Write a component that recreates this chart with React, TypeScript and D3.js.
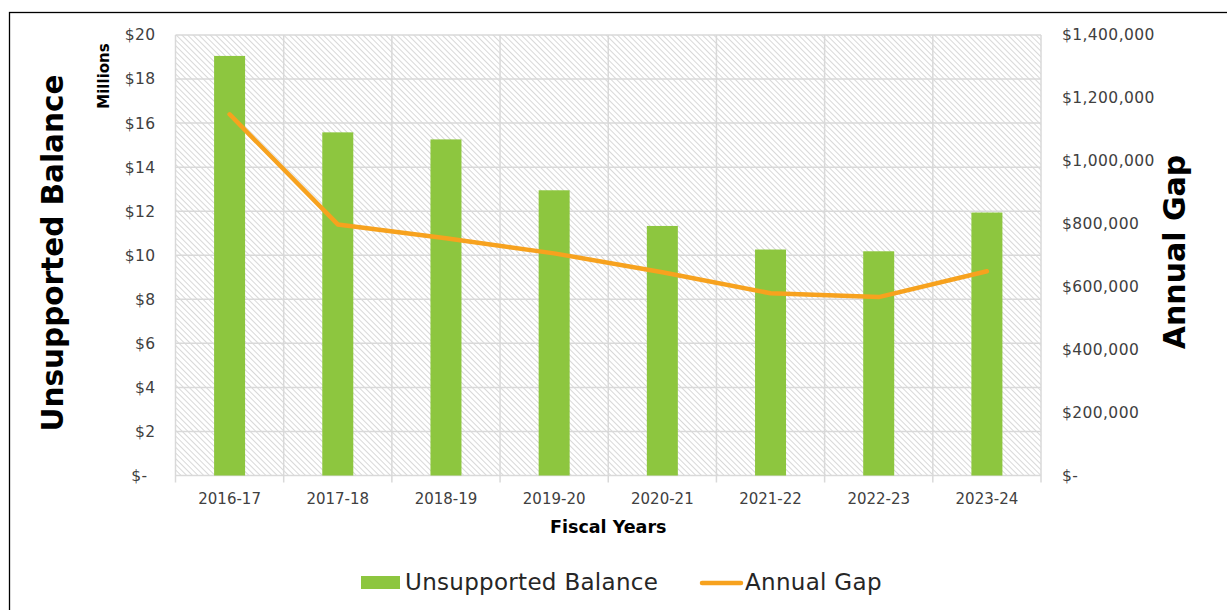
import React, { useRef, useEffect } from "react";
import * as d3 from "d3";

const years = ["2016-17", "2017-18", "2018-19", "2019-20", "2020-21", "2021-22", "2022-23", "2023-24"];
// Unsupported balance, $ millions
const balance = [19.05, 15.58, 15.26, 12.95, 11.33, 10.26, 10.18, 11.94];
// Annual gap, $
const annualGap = [1148000, 798000, 754000, 706000, 646000, 579000, 567000, 649000];
const leftTicks = [0, 2, 4, 6, 8, 10, 12, 14, 16, 18, 20];
const rightTicks = [0, 200000, 400000, 600000, 800000, 1000000, 1200000, 1400000];

const GREEN = "#8DC63F";
const ORANGE = "#F7A21E";
const FONT = "'DejaVu Sans', sans-serif";

const App = () => {
  const svgRef = useRef<SVGSVGElement>(null);

  useEffect(() => {
    const svg = d3.select(svgRef.current);
    svg.selectAll("*").remove();

    const width = 1227;
    const height = 610;
    const margin = { top: 35, right: 186, bottom: 134.5, left: 175.5 };
    const innerWidth = width - margin.left - margin.right;
    const innerHeight = height - margin.top - margin.bottom;

    // hatch pattern for plot background
    const defs = svg.append("defs");
    const pat = defs
      .append("pattern")
      .attr("id", "hatch")
      .attr("patternUnits", "userSpaceOnUse")
      .attr("width", 4)
      .attr("height", 4)
      .attr("patternTransform", "rotate(-45)");
    pat.append("rect").attr("width", 4).attr("height", 4).attr("fill", "#fff");
    pat.append("line").attr("x1", 0).attr("y1", 0).attr("x2", 0).attr("y2", 4)
      .attr("stroke", "#c8c8c8").attr("stroke-width", 1.4);

    // outer frame
    svg.append("rect")
      .attr("x", 9.5).attr("y", 12.5)
      .attr("width", 1400).attr("height", 800)
      .attr("fill", "none").attr("stroke", "#000").attr("stroke-width", 1.3);

    const x = d3.scaleBand().domain(years).range([0, innerWidth]).paddingInner(0).paddingOuter(0);
    const yL = d3.scaleLinear().domain([0, 20]).range([innerHeight, 0]);
    const yR = d3.scaleLinear().domain([0, 1400000]).range([innerHeight, 0]);

    const g = svg.append("g").attr("transform", `translate(${margin.left},${margin.top})`);

    g.append("rect").attr("width", innerWidth).attr("height", innerHeight).attr("fill", "url(#hatch)");

    // horizontal gridlines
    g.append("g")
      .selectAll("line")
      .data(leftTicks)
      .join("line")
      .attr("x1", 0).attr("x2", innerWidth)
      .attr("y1", (d) => yL(d)).attr("y2", (d) => yL(d))
      .attr("stroke", "#d9d9d9").attr("stroke-width", 1.5);

    // vertical gridlines at category boundaries (extend as ticks below axis)
    const bounds = years.map((d) => x(d) as number).concat([innerWidth]);
    g.append("g")
      .selectAll("line")
      .data(bounds)
      .join("line")
      .attr("x1", (d) => d).attr("x2", (d) => d)
      .attr("y1", 0).attr("y2", innerHeight + 7)
      .attr("stroke", "#d9d9d9").attr("stroke-width", 1.5);

    // bars
    const barW = 31;
    g.append("g")
      .selectAll("rect")
      .data(balance)
      .join("rect")
      .attr("x", (d, i) => (x(years[i]) as number) + x.bandwidth() / 2 - barW / 2)
      .attr("y", (d) => yL(d))
      .attr("width", barW)
      .attr("height", (d) => innerHeight - yL(d))
      .attr("fill", GREEN);

    // line
    const line = d3
      .line<number>()
      .x((d, i) => (x(years[i]) as number) + x.bandwidth() / 2)
      .y((d) => yR(d));
    g.append("path")
      .datum(annualGap)
      .attr("d", line)
      .attr("fill", "none")
      .attr("stroke", ORANGE)
      .attr("stroke-width", 4.5)
      .attr("stroke-linejoin", "round")
      .attr("stroke-linecap", "round");

    // x axis labels
    g.append("g")
      .selectAll("text")
      .data(years)
      .join("text")
      .attr("x", (d) => (x(d) as number) + x.bandwidth() / 2)
      .attr("y", innerHeight + 28)
      .attr("text-anchor", "middle")
      .attr("font-family", FONT)
      .attr("font-size", 15)
      .attr("fill", "#404040")
      .text((d) => d);

    // left axis labels
    g.append("g")
      .selectAll("text")
      .data(leftTicks)
      .join("text")
      .attr("x", (d) => (d === 0 ? -28 : -20))
      .attr("y", (d) => yL(d))
      .attr("dy", "0.35em")
      .attr("text-anchor", "end")
      .attr("font-family", FONT)
      .attr("font-size", 15.5)
      .attr("letter-spacing", 0.4)
      .attr("fill", "#404040")
      .text((d) => (d === 0 ? "$-" : `$${d}`));

    // right axis labels
    const fmt = d3.format(",");
    g.append("g")
      .selectAll("text")
      .data(rightTicks)
      .join("text")
      .attr("x", innerWidth + 21)
      .attr("y", (d) => yR(d))
      .attr("dy", "0.35em")
      .attr("text-anchor", "start")
      .attr("font-family", FONT)
      .attr("font-size", 15.5)
      .attr("letter-spacing", 0.4)
      .attr("fill", "#404040")
      .text((d) => (d === 0 ? "$-" : `$${fmt(d)}`));

    // axis titles
    svg.append("text")
      .attr("transform", `translate(63,253) rotate(-90)`)
      .attr("text-anchor", "middle")
      .attr("font-family", FONT)
      .attr("font-weight", "bold")
      .attr("font-size", 29.5)
      .attr("fill", "#000")
      .text("Unsupported Balance");

    svg.append("text")
      .attr("transform", `translate(109,76) rotate(-90)`)
      .attr("text-anchor", "middle")
      .attr("font-family", FONT)
      .attr("font-weight", "bold")
      .attr("font-size", 15)
      .attr("fill", "#000")
      .text("Millions");

    svg.append("text")
      .attr("transform", `translate(1185,252) rotate(-90)`)
      .attr("text-anchor", "middle")
      .attr("font-family", FONT)
      .attr("font-weight", "bold")
      .attr("font-size", 30)
      .attr("fill", "#000")
      .text("Annual Gap");

    svg.append("text")
      .attr("x", margin.left + innerWidth / 2)
      .attr("y", 533)
      .attr("text-anchor", "middle")
      .attr("font-family", FONT)
      .attr("font-weight", "bold")
      .attr("font-size", 17.5)
      .attr("fill", "#000")
      .text("Fiscal Years");

    // legend
    const lg = svg.append("g").attr("transform", "translate(0,582)");
    lg.append("rect").attr("x", 361).attr("y", -6).attr("width", 39).attr("height", 13).attr("fill", GREEN);
    lg.append("text")
      .attr("x", 405).attr("y", 0).attr("dy", "0.35em")
      .attr("font-family", FONT).attr("font-size", 23).attr("letter-spacing", 0.3).attr("fill", "#262626")
      .text("Unsupported Balance");
    lg.append("line")
      .attr("x1", 702).attr("x2", 741).attr("y1", 1).attr("y2", 1)
      .attr("stroke", ORANGE).attr("stroke-width", 4.5).attr("stroke-linecap", "round");
    lg.append("text")
      .attr("x", 745).attr("y", 0).attr("dy", "0.35em")
      .attr("font-family", FONT).attr("font-size", 23).attr("letter-spacing", 0.3).attr("fill", "#262626")
      .text("Annual Gap");
  }, []);

  return (
    <svg
      ref={svgRef}
      width={1227}
      height={610}
      style={{ position: "fixed", left: 0, top: 0, background: "#fff" }}
    ></svg>
  );
};

export default App;
